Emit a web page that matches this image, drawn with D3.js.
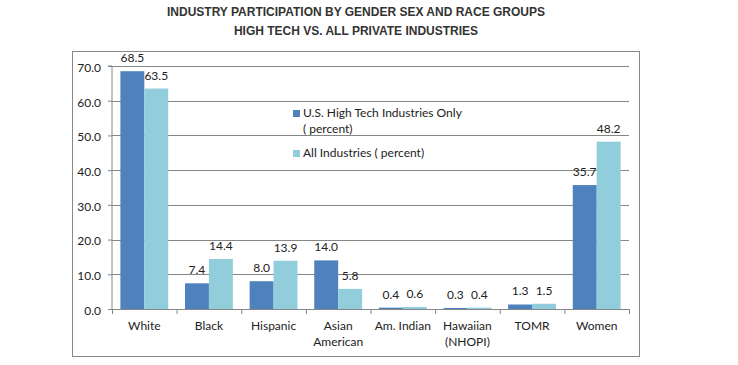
<!DOCTYPE html>
<html>
<head>
<meta charset="utf-8">
<script src="https://cdn.jsdelivr.net/npm/d3@7"></script>
<style>
  body { margin: 0; background: #fff; }
  text { font-family: Lato, "Open Sans", sans-serif; fill: #222; }
  .title { font-family: "Liberation Sans", Arial, sans-serif; font-weight: bold; font-size: 12px; fill: #333; }
</style>
</head>
<body>
<script>
// chart data
const categories = ["White", "Black", "Hispanic", "Asian\nAmerican", "Am. Indian", "Hawaiian\n(NHOPI)", "TOMR", "Women"];
const highTech = [68.5, 7.4, 8.0, 14.0, 0.4, 0.3, 1.3, 35.7];
const allIndustries = [63.5, 14.4, 13.9, 5.8, 0.6, 0.4, 1.5, 48.2];
const seriesNames = ["U.S. High Tech Industries Only\n( percent)", "All Industries ( percent)"];
const colors = ["#4F81BD", "#92CDDC"];
const yTicks = [0, 10, 20, 30, 40, 50, 60, 70];
const titleLines = ["INDUSTRY PARTICIPATION BY GENDER SEX AND RACE GROUPS", "HIGH TECH VS. ALL PRIVATE INDUSTRIES"];

let width = 738, height = 365;
let plot = {left: 112, right: 629, top: 66, bottom: 309};
let fs = "12px";

let svg = d3.select("body").append("svg")
  .attr("width", width)
  .attr("height", height);

// outer frame
svg.append("rect")
  .attr("x", 72.5).attr("y", 51.5)
  .attr("width", 567).attr("height", 305)
  .attr("fill", "none").attr("stroke", "#888").attr("stroke-width", 1);

// title
let titleWidths = [382, 248];
titleLines.forEach((t, i) => {
  let el = svg.append("text").attr("class", "title")
    .attr("x", 356).attr("y", 16 + i * 19)
    .attr("text-anchor", "middle")
    .text(t);
  if (el.node().getComputedTextLength() > titleWidths[i]) {
    el.attr("textLength", titleWidths[i]).attr("lengthAdjust", "spacingAndGlyphs");
  }
});

let y = d3.scaleLinear().domain([0, 70]).range([plot.bottom, plot.top]);
let x0 = d3.scaleBand().domain(d3.range(categories.length)).range([plot.left, plot.right]);
let x1 = d3.scaleBand().domain([0, 1]).range([0, x0.bandwidth()]).paddingOuter(0.35).paddingInner(0);

// gridlines
svg.append("g")
  .attr("transform", `translate(${plot.left},0)`)
  .call(d3.axisLeft(y).tickValues(yTicks.slice(1)).tickSize(-(plot.right - plot.left)).tickFormat(""))
  .call(g => g.select(".domain").remove())
  .call(g => g.selectAll("line").attr("stroke", "#868686").attr("shape-rendering", "crispEdges"));

// y axis
svg.append("g")
  .attr("transform", `translate(${plot.left},0)`)
  .call(d3.axisLeft(y).tickValues(yTicks).tickSize(4).tickPadding(7).tickFormat(d3.format(".1f")))
  .call(g => g.select(".domain").attr("stroke", "#868686").attr("d", `M-4,${plot.top}H0V${plot.bottom}`))
  .call(g => g.selectAll("line").attr("stroke", "#868686"))
  .call(g => g.selectAll("text").attr("dy", "0.45em").style("font-family", "Lato, sans-serif").style("font-size", fs).attr("fill", "#222"));

// bars
let seriesData = [highTech, allIndustries];
seriesData.forEach((vals, s) => {
  svg.append("g").selectAll("rect")
    .data(vals)
    .join("rect")
    .attr("x", (d, i) => x0(i) + x1(s))
    .attr("y", d => y(d))
    .attr("width", x1.bandwidth())
    .attr("height", d => y(0) - y(d))
    .attr("fill", colors[s]);

  svg.append("g").selectAll("text")
    .data(vals)
    .join("text")
    .attr("x", (d, i) => x0(i) + x1(s) + x1.bandwidth() / 2)
    .attr("y", d => y(d) - 9)
    .attr("text-anchor", "middle")
    .style("font-size", fs)
    .text(d => d.toFixed(1));
});

// x axis
let xa = svg.append("g").attr("stroke", "#868686");
xa.append("line")
  .attr("x1", plot.left).attr("x2", plot.right)
  .attr("y1", plot.bottom + 0.5).attr("y2", plot.bottom + 0.5);
xa.selectAll("line.tick")
  .data(d3.range(categories.length + 1))
  .join("line").attr("class", "tick")
  .attr("x1", i => (i < categories.length ? x0(i) : plot.right) + 0.5)
  .attr("x2", i => (i < categories.length ? x0(i) : plot.right) + 0.5)
  .attr("y1", plot.bottom).attr("y2", plot.bottom + 5);

let cl = svg.append("g").selectAll("text")
  .data(categories)
  .join("text")
  .attr("x", (d, i) => x0(i) + x0.bandwidth() / 2)
  .attr("y", 330)
  .attr("text-anchor", "middle")
  .style("font-size", fs);
cl.each(function(d) {
  d.split("\n").forEach((line, k) => {
    d3.select(this).append("tspan")
      .attr("x", d3.select(this).attr("x"))
      .attr("dy", k === 0 ? 0 : 16)
      .text(line);
  });
});

// legend
let legendY = [117, 157];
seriesNames.forEach((name, s) => {
  svg.append("rect")
    .attr("x", 293).attr("y", legendY[s] - 7)
    .attr("width", 7).attr("height", 7)
    .attr("fill", colors[s]);
  let t = svg.append("text")
    .attr("x", 303).attr("y", legendY[s])
    .style("font-size", fs);
  name.split("\n").forEach((line, k) => {
    t.append("tspan").attr("x", 303).attr("dy", k === 0 ? 0 : 16).text(line);
  });
});
</script>
</body>
</html>
